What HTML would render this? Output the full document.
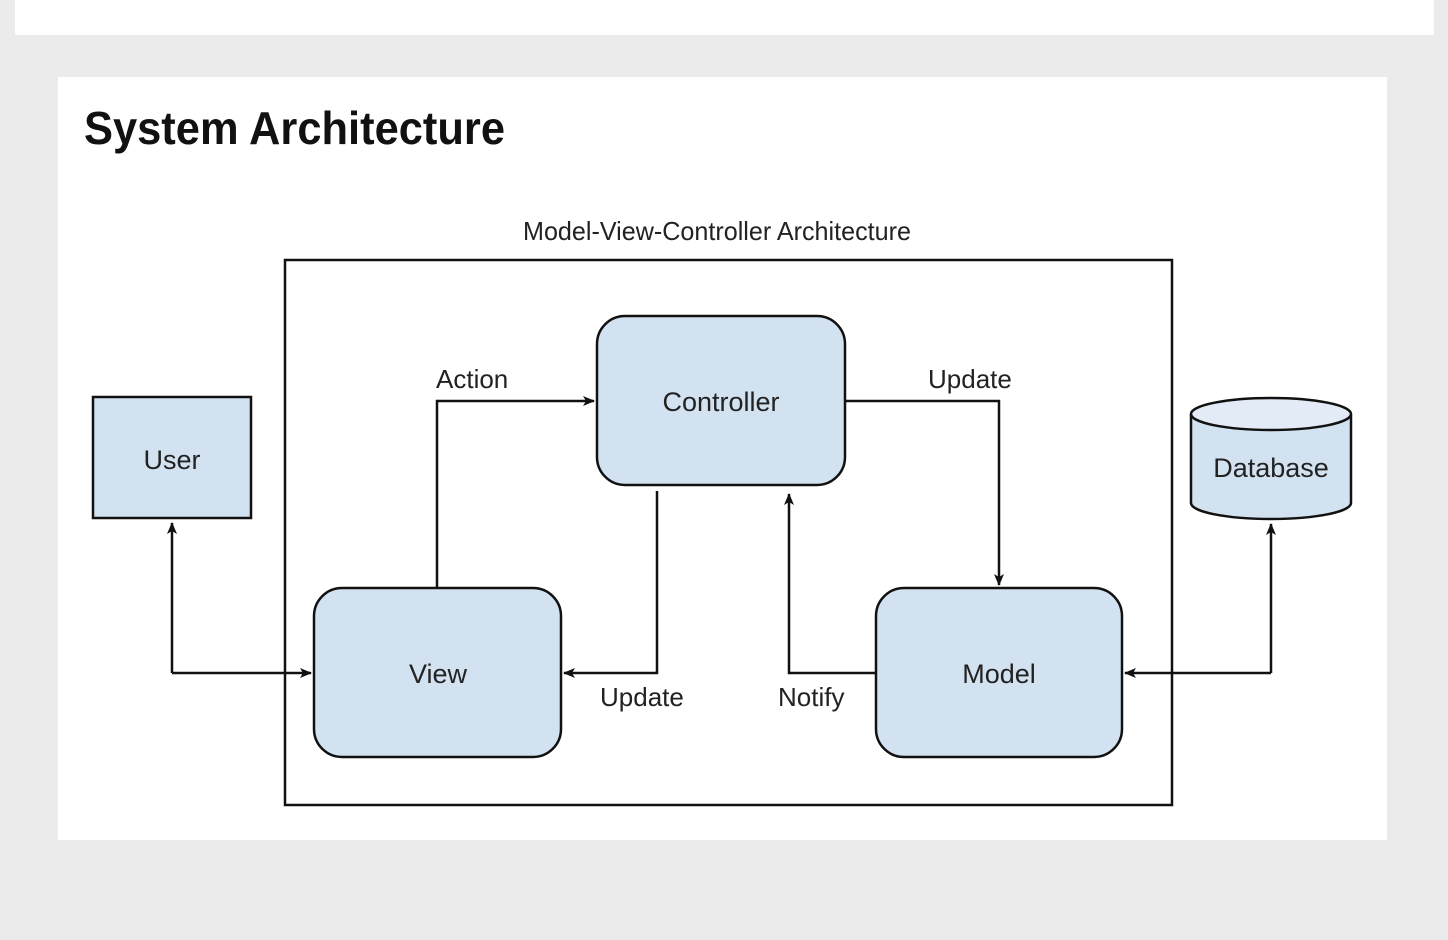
<!DOCTYPE html>
<html><head><meta charset="utf-8"><style>
html,body{margin:0;padding:0;background:#ebebeb;width:1448px;height:940px;overflow:hidden}
svg{display:block}
text{font-family:"Liberation Sans",sans-serif}
</style></head><body>
<svg width="1448" height="940" viewBox="0 0 1448 940" xmlns="http://www.w3.org/2000/svg">
<defs><marker id="a" viewBox="0 0 12 10" refX="11" refY="5" markerWidth="12" markerHeight="10" markerUnits="userSpaceOnUse" orient="auto"><path d="M0,0 L12,5 L0,10 L3,5 z" fill="#111"/></marker></defs>
<rect x="0" y="0" width="1448" height="940" fill="#ebebeb"/>
<rect x="15" y="0" width="1419" height="35" fill="#fff"/>
<rect x="58" y="77" width="1329" height="763" fill="#fff"/>
<text x="84" y="144" font-size="46" font-weight="bold" fill="#111" textLength="421" lengthAdjust="spacingAndGlyphs">System Architecture</text>
<text x="717" y="240" font-size="26" text-anchor="middle" fill="#222" textLength="388" lengthAdjust="spacingAndGlyphs">Model-View-Controller Architecture</text>
<rect x="285" y="260" width="887" height="545" fill="none" stroke="#111" stroke-width="2.5"/>
<g fill="#d3e2f1" stroke="#111" stroke-width="2.5">
<rect x="93" y="397" width="158" height="121"/>
<rect x="597" y="316" width="248" height="169" rx="28"/>
<rect x="314" y="588" width="247" height="169" rx="28"/>
<rect x="876" y="588" width="246" height="169" rx="28"/>
<path d="M1191,414 L1191,503 A80,16 0 0 0 1351,503 L1351,414"/>
<ellipse cx="1271" cy="414" rx="80" ry="16" fill="#e3ecf6"/>
</g>
<g font-size="27" fill="#222" text-anchor="middle">
<text x="172" y="469">User</text>
<text x="721" y="411">Controller</text>
<text x="438" y="683">View</text>
<text x="999" y="683">Model</text>
<text x="1271" y="477">Database</text>
</g>
<g font-size="26" fill="#222">
<text x="436" y="388">Action</text>
<text x="928" y="388">Update</text>
<text x="600" y="706">Update</text>
<text x="778" y="706">Notify</text>
</g>
<g fill="none" stroke="#111" stroke-width="2.5">
<path d="M437,588 L437,401 L594,401" marker-end="url(#a)"/>
<path d="M845,401 L999,401 L999,585" marker-end="url(#a)"/>
<path d="M657,491 L657,673 L564,673" marker-end="url(#a)"/>
<path d="M876,673 L789,673 L789,494" marker-end="url(#a)"/>
<path d="M172,673 L311,673" marker-end="url(#a)"/>
<path d="M172,673 L172,523" marker-end="url(#a)"/>
<path d="M1271,673 L1125,673" marker-end="url(#a)"/>
<path d="M1271,673 L1271,524" marker-end="url(#a)"/>
</g>
</svg>
</body></html>
